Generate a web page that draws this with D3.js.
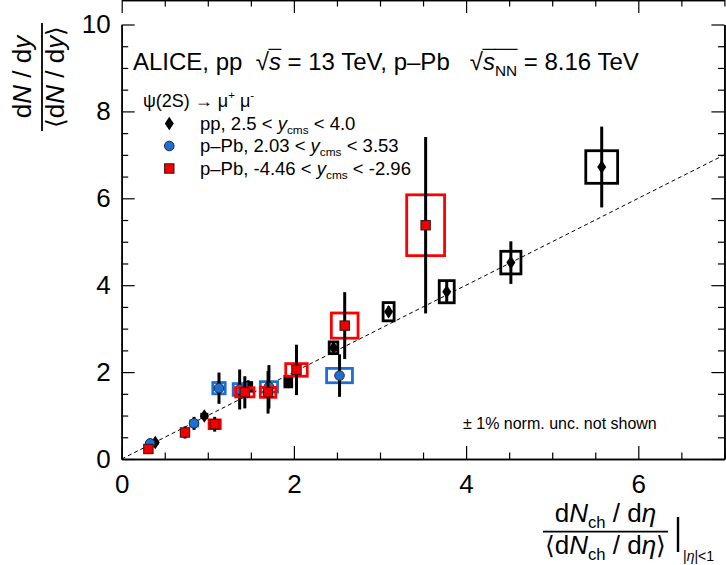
<!DOCTYPE html>
<html>
<head>
<meta charset="utf-8">
<script src="https://cdn.jsdelivr.net/npm/d3@7/dist/d3.min.js"></script>
<style>
  body { margin: 0; background: #fff; }
  svg { display: block; }
  text { white-space: pre; font-family: "Liberation Sans", Arial, Helvetica, sans-serif; fill: #000; }
</style>
</head>
<body>
<svg id="chart" width="726" height="565"></svg>
<script>
// pp, 2.5 < y < 4.0
var ppX = [0.39, 0.96, 1.47, 1.935, 2.46, 3.10, 3.775, 4.52, 5.575];
var ppY = [0.38, 0.99, 1.66, 1.78, 2.56, 3.39, 3.85, 4.52, 6.72];
var ppStat = [0.04, 0.05, 0.15, 0.10, 0.08, 0.12, 0.26, 0.49, 0.93];
var ppSystY = [0.03, 0.04, 0.10, 0.12, 0.135, 0.21, 0.255, 0.26, 0.375];
var ppSystX = [0.02, 0.03, 0.04, 0.04, 0.05, 0.064, 0.087, 0.117, 0.185];

// p-Pb forward, 2.03 < y < 3.53
var fwdX = [0.33, 0.84, 1.13, 1.37, 1.71, 2.53];
var fwdY = [0.36, 0.82, 1.63, 1.60, 1.66, 1.92];
var fwdStat = [0.04, 0.15, 0.36, 0.46, 0.50, 0.49];
var fwdSystY = [0.04, 0.06, 0.13, 0.135, 0.12, 0.165];
var fwdSystX = [0.03, 0.04, 0.072, 0.075, 0.10, 0.15];

// p-Pb backward, -4.46 < y < -2.96
var bwdX = [0.31, 0.735, 1.08, 1.43, 1.70, 2.03, 2.59, 3.53];
var bwdY = [0.23, 0.61, 0.80, 1.535, 1.535, 2.05, 3.07, 5.38];
var bwdStat = [0.05, 0.14, 0.17, 0.37, 0.49, 0.58, 0.77, 2.03];
var bwdSystY = [0.04, 0.06, 0.10, 0.105, 0.115, 0.145, 0.29, 0.70];
var bwdSystX = [0.03, 0.04, 0.065, 0.107, 0.09, 0.125, 0.155, 0.22];

var refLineX = [0, 7];
var refLineY = [0, 7];

var xTicks = [0, 2, 4, 6];
var xTickLabels = ["0", "2", "4", "6"];
var yTicks = [0, 2, 4, 6, 8, 10];
var yTickLabels = ["0", "2", "4", "6", "8", "10"];

var svg = d3.select("#chart");
var x = d3.scaleLinear().domain([0, 7]).range([121.7, 724.4]);
var y = d3.scaleLinear().domain([0, 10]).range([459, 24.5]);
var left = x.range()[0], right = x.range()[1], bottom = y.range()[0], top = y.range()[1];

function minorTicks(max) {
  return d3.range(0, max + 0.001, 0.5).filter(function (v) { return v % 2 !== 0; });
}

// ---- axes (ticks inside, on all four sides)
function drawAxis(axis, tx, ty) {
  var g = svg.append("g").attr("transform", "translate(" + tx + "," + ty + ")").call(axis);
  g.selectAll("line").attr("stroke", "#000").attr("stroke-width", 1.2);
  g.select(".domain").attr("stroke", "#000").attr("stroke-width", 1.6);
  g.selectAll("text").attr("font-size", 26).attr("font-family", "'Liberation Sans', Arial, sans-serif");
  return g;
}

drawAxis(d3.axisBottom(x).tickValues(xTicks).tickFormat(function (d, i) { return xTickLabels[i]; })
  .tickSize(-13).tickSizeOuter(0).tickPadding(16), 0, bottom);
drawAxis(d3.axisBottom(x).tickValues(minorTicks(7)).tickFormat("").tickSize(-6.5).tickSizeOuter(0), 0, bottom);
drawAxis(d3.axisTop(x).tickValues(xTicks).tickFormat("").tickSize(-13).tickSizeOuter(0), 0, top);
drawAxis(d3.axisTop(x).tickValues(minorTicks(7)).tickFormat("").tickSize(-6.5).tickSizeOuter(0), 0, top);

drawAxis(d3.axisLeft(y).tickValues(yTicks).tickFormat(function (d, i) { return yTickLabels[i]; })
  .tickSize(-13).tickSizeOuter(0).tickPadding(11), left, 0);
drawAxis(d3.axisLeft(y).tickValues(minorTicks(10)).tickFormat("").tickSize(-6.5).tickSizeOuter(0), left, 0);
drawAxis(d3.axisRight(y).tickValues(yTicks).tickFormat("").tickSize(-13).tickSizeOuter(0), right, 0);
drawAxis(d3.axisRight(y).tickValues(minorTicks(10)).tickFormat("").tickSize(-6.5).tickSizeOuter(0), right, 0);

// ---- reference line y = x
svg.append("path")
  .datum(d3.range(refLineX.length))
  .attr("fill", "none")
  .attr("stroke", "#000")
  .attr("stroke-width", 1)
  .attr("stroke-dasharray", "4 3")
  .attr("d", d3.line().x(function (i) { return x(refLineX[i]); }).y(function (i) { return y(refLineY[i]); }));

// ---- markers
function marker(g, kind, cx, cy) {
  if (kind === "diamond") {
    g.append("path")
      .attr("d", "M" + cx + "," + (cy - 6.8) + "L" + (cx + 4.5) + "," + cy + "L" + cx + "," + (cy + 6.8) + "L" + (cx - 4.5) + "," + cy + "Z")
      .attr("fill", "#000");
  } else if (kind === "circle") {
    g.append("circle").attr("cx", cx).attr("cy", cy).attr("r", 4.8)
      .attr("fill", "#1f6fd2").attr("stroke", "#1a2a40").attr("stroke-width", 1);
  } else {
    g.append("rect").attr("x", cx - 4.7).attr("y", cy - 4.7).attr("width", 9.4).attr("height", 9.4)
      .attr("fill", "#f00000").attr("stroke", "#3a1010").attr("stroke-width", 1);
  }
}

function drawSeries(xs, ys, stat, systY, systX, kind, color) {
  var g = svg.append("g");
  xs.forEach(function (xv, i) {
    g.append("rect")
      .attr("x", x(xv - systX[i])).attr("y", y(ys[i] + systY[i]))
      .attr("width", x(xv + systX[i]) - x(xv - systX[i]))
      .attr("height", y(ys[i] - systY[i]) - y(ys[i] + systY[i]))
      .attr("fill", "none").attr("stroke", color).attr("stroke-width", 2.8);
  });
  xs.forEach(function (xv, i) {
    g.append("line")
      .attr("x1", x(xv)).attr("x2", x(xv))
      .attr("y1", y(ys[i] + stat[i])).attr("y2", y(ys[i] - stat[i]))
      .attr("stroke", "#000").attr("stroke-width", 3);
  });
  xs.forEach(function (xv, i) {
    marker(g, kind, x(xv), y(ys[i]));
  });
}

drawSeries(ppX, ppY, ppStat, ppSystY, ppSystX, "diamond", "#000");
drawSeries(fwdX, fwdY, fwdStat, fwdSystY, fwdSystX, "circle", "#1f6fd2");
drawSeries(bwdX, bwdY, bwdStat, bwdSystY, bwdSystX, "square", "#ff0000");

// ---- rich text helper (sub/superscripts, italics, overlines)
function rich(parent, tx, ty, parts, size, anchor) {
  var g = parent.append("g").attr("transform", "translate(" + tx + "," + ty + ")");
  var inner = g.append("g");
  var cx = 0, overs = [];
  parts.forEach(function (p) {
    var small = p.sub || p.sup;
    var fs = size * (small ? 0.64 : 1) * (p.scale || 1);
    var dy = p.sub ? size * 0.24 : (p.sup ? -size * 0.45 : 0);
    var t = inner.append("text")
      .attr("x", cx).attr("y", dy)
      .attr("font-size", fs)
      .attr("font-style", p.it ? "italic" : null)
      .text(p.t);
    if (p.font) t.attr("font-family", p.font);
    var w = t.node().getComputedTextLength();
    if (p.over) overs.push([cx, cx + w]);
    cx += w + (p.gap || 0);
  });
  overs.forEach(function (o) {
    inner.append("line").attr("x1", o[0] - 0.5).attr("x2", o[1] + 0.5)
      .attr("y1", -size * 0.86).attr("y2", -size * 0.86)
      .attr("stroke", "#000").attr("stroke-width", 1.2);
  });
  if (anchor === "middle") inner.attr("transform", "translate(" + (-cx / 2) + ",0)");
  return { g: g, width: cx };
}

// header
rich(svg, 133, 70, [
  { t: "ALICE, pp  " },
  { t: "\u221A" },
  { t: "s", it: true, over: true },
  { t: " = 13 TeV, p\u2013Pb   " },
  { t: "\u221A" },
  { t: "s", it: true, over: true },
  { t: "NN", sub: true, over: true },
  { t: " = 8.16 TeV" }
], 24);

// legend
rich(svg, 143, 107, [
  { t: "\u03C8(2S) " },
  { t: "\u2192", font: "'DejaVu Sans', sans-serif" },
  { t: " \u03BC" },
  { t: "+", sup: true },
  { t: " \u03BC" },
  { t: "-", sup: true }
], 18);

var legendRows = [
  { kind: "diamond", cy: 123.5, parts: [{ t: "pp, 2.5 < " }, { t: "y", it: true }, { t: "cms", sub: true }, { t: " < 4.0" }] },
  { kind: "circle", cy: 146, parts: [{ t: "p\u2013Pb, 2.03 < " }, { t: "y", it: true }, { t: "cms", sub: true }, { t: " < 3.53" }] },
  { kind: "square", cy: 168.5, parts: [{ t: "p\u2013Pb, -4.46 < " }, { t: "y", it: true }, { t: "cms", sub: true }, { t: " < -2.96" }] }
];
var lg = svg.append("g");
legendRows.forEach(function (r) {
  marker(lg, r.kind, 169.3, r.cy);
  rich(lg, 200, r.cy + 6, r.parts, 18.5);
});

// note
rich(svg, 463, 429, [{ t: "\u00B1 1% norm. unc. not shown" }], 16);

// y title (rotated fraction)
var yt = svg.append("g").attr("transform", "translate(0,77) rotate(-90)");
rich(yt, 0, 31, [{ t: "d" }, { t: "N", it: true }, { t: " / d" }, { t: "y", it: true }], 26, "middle");
yt.append("line").attr("x1", -54).attr("x2", 54).attr("y1", 42).attr("y2", 42).attr("stroke", "#000").attr("stroke-width", 1.8);
rich(yt, 0, 64, [{ t: "\u27E8", font: "'DejaVu Sans', sans-serif", scale: 0.95 }, { t: "d" }, { t: "N", it: true }, { t: " / d" }, { t: "y", it: true }, { t: "\u27E9", font: "'DejaVu Sans', sans-serif", scale: 0.95 }], 26, "middle");

// x title (fraction with |_{|eta|<1})
rich(svg, 605.5, 522, [{ t: "d" }, { t: "N", it: true }, { t: "ch", sub: true }, { t: " / d" }, { t: "\u03B7", it: true }], 26, "middle");
svg.append("line").attr("x1", 543).attr("x2", 668).attr("y1", 531.7).attr("y2", 531.7).attr("stroke", "#000").attr("stroke-width", 1.8);
rich(svg, 605.5, 554, [{ t: "\u27E8", font: "'DejaVu Sans', sans-serif", scale: 0.95 }, { t: "d" }, { t: "N", it: true }, { t: "ch", sub: true }, { t: " / d" }, { t: "\u03B7", it: true }, { t: "\u27E9", font: "'DejaVu Sans', sans-serif", scale: 0.95 }], 26, "middle");
svg.append("line").attr("x1", 678).attr("x2", 678).attr("y1", 517).attr("y2", 552).attr("stroke", "#000").attr("stroke-width", 2.4);
rich(svg, 683, 561, [{ t: "|" }, { t: "\u03B7", it: true }, { t: "|<1" }], 14);
</script>
</body>
</html>
